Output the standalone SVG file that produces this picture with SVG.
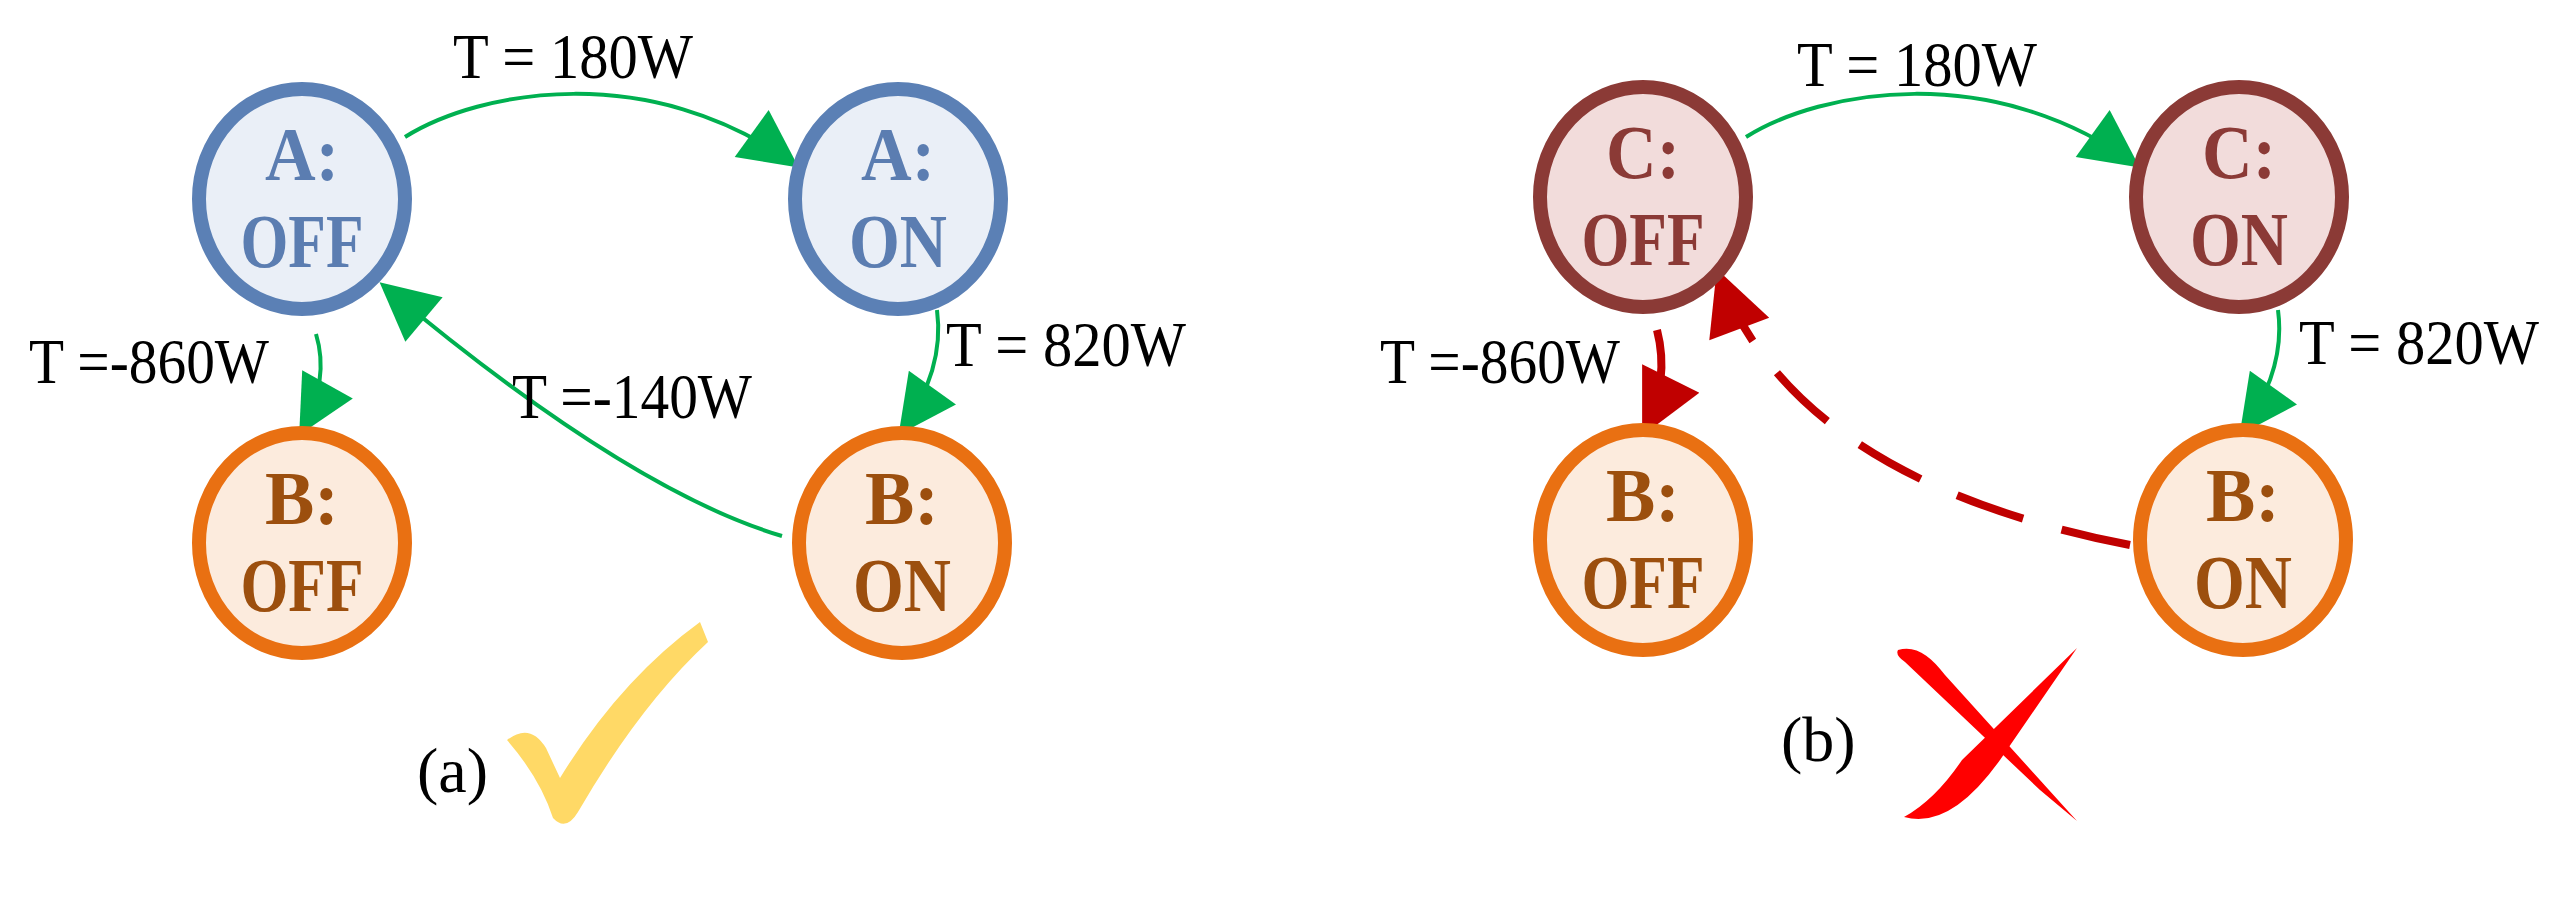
<svg xmlns="http://www.w3.org/2000/svg" width="2566" height="899" viewBox="0 0 2566 899">
<style>
.n{stroke-width:14}
.a{fill:#EAEFF7;stroke:#5B80B5}
.b{fill:#FCEBDD;stroke:#E97012}
.c{fill:#F2DCDB;stroke:#8B3A36}
.t{font-family:"Liberation Serif",serif;font-weight:bold;font-size:76px;text-anchor:middle}
.ta{fill:#5B7DB1}.tb{fill:#9C4F0E}.tc{fill:#8B3A36}
.l{font-family:"Liberation Serif",serif;font-size:64px;fill:#000}
.g{fill:none;stroke:#00B050;stroke-width:4}
.r{fill:none;stroke:#C00000;stroke-width:8}
</style>
<defs>
<marker id="mg" markerUnits="userSpaceOnUse" viewBox="0 0 10 10" refX="9" refY="5" markerWidth="66" markerHeight="58" orient="auto"><path d="M0,0L10,5L0,10Z" fill="#00B050"/></marker>
<marker id="mr" markerUnits="userSpaceOnUse" viewBox="0 0 10 10" refX="9" refY="5" markerWidth="70" markerHeight="64" orient="auto"><path d="M0,0L10,5L0,10Z" fill="#C00000"/></marker>
</defs>
<g id="connectors">
<path class="g" d="M405,137 C480,90 650,60 794,164" marker-end="url(#mg)"/>
<path class="g" d="M937,310 Q945,370 902,430" marker-end="url(#mg)"/>
<path class="g" d="M316,334 Q330,380 302,430" marker-end="url(#mg)"/>
<path class="g" d="M782,536 Q627,490 384,286" marker-end="url(#mg)"/>
<path class="g" d="M1746,137 C1821,90 1991,60 2135,164" marker-end="url(#mg)"/>
<path class="g" d="M2278,310 Q2286,370 2243,430" marker-end="url(#mg)"/>
<path class="r" d="M1657,330 Q1670,380 1645,430" marker-end="url(#mr)"/>
<path class="r" d="M2130,545 Q1796,480 1719,275" stroke-dasharray="70,40" marker-end="url(#mr)"/>
</g>
<g id="AOFF"><ellipse class="n a" cx="302" cy="199" rx="103" ry="110"/><text class="t ta" x="302" y="180" textLength="74" lengthAdjust="spacingAndGlyphs">A:</text><text class="t ta" x="302" y="267" textLength="123" lengthAdjust="spacingAndGlyphs">OFF</text></g>
<g id="AON"><ellipse class="n a" cx="898" cy="199" rx="103" ry="110"/><text class="t ta" x="898" y="180" textLength="74" lengthAdjust="spacingAndGlyphs">A:</text><text class="t ta" x="898" y="267" textLength="98" lengthAdjust="spacingAndGlyphs">ON</text></g>
<g id="BOFFa"><ellipse class="n b" cx="302" cy="543" rx="103" ry="110"/><text class="t tb" x="302" y="524" textLength="74" lengthAdjust="spacingAndGlyphs">B:</text><text class="t tb" x="302" y="611" textLength="123" lengthAdjust="spacingAndGlyphs">OFF</text></g>
<g id="BONa"><ellipse class="n b" cx="902" cy="543" rx="103" ry="110"/><text class="t tb" x="902" y="524" textLength="74" lengthAdjust="spacingAndGlyphs">B:</text><text class="t tb" x="902" y="611" textLength="98" lengthAdjust="spacingAndGlyphs">ON</text></g>
<g id="COFF"><ellipse class="n c" cx="1643" cy="197" rx="103" ry="110"/><text class="t tc" x="1643" y="178" textLength="74" lengthAdjust="spacingAndGlyphs">C:</text><text class="t tc" x="1643" y="265" textLength="123" lengthAdjust="spacingAndGlyphs">OFF</text></g>
<g id="CON"><ellipse class="n c" cx="2239" cy="197" rx="103" ry="110"/><text class="t tc" x="2239" y="178" textLength="74" lengthAdjust="spacingAndGlyphs">C:</text><text class="t tc" x="2239" y="265" textLength="98" lengthAdjust="spacingAndGlyphs">ON</text></g>
<g id="BOFFb"><ellipse class="n b" cx="1643" cy="540" rx="103" ry="110"/><text class="t tb" x="1643" y="521" textLength="74" lengthAdjust="spacingAndGlyphs">B:</text><text class="t tb" x="1643" y="608" textLength="123" lengthAdjust="spacingAndGlyphs">OFF</text></g>
<g id="BONb"><ellipse class="n b" cx="2243" cy="540" rx="103" ry="110"/><text class="t tb" x="2243" y="521" textLength="74" lengthAdjust="spacingAndGlyphs">B:</text><text class="t tb" x="2243" y="608" textLength="98" lengthAdjust="spacingAndGlyphs">ON</text></g>
<g id="labels">
<text class="l" x="453" y="78" textLength="240" lengthAdjust="spacingAndGlyphs">T = 180W</text>
<text class="l" x="29" y="383" textLength="240" lengthAdjust="spacingAndGlyphs">T =-860W</text>
<text class="l" x="946" y="366" textLength="240" lengthAdjust="spacingAndGlyphs">T = 820W</text>
<text class="l" x="512" y="418" textLength="240" lengthAdjust="spacingAndGlyphs">T =-140W</text>
<text class="l" x="1797" y="86" textLength="240" lengthAdjust="spacingAndGlyphs">T = 180W</text>
<text class="l" x="1380" y="383" textLength="240" lengthAdjust="spacingAndGlyphs">T =-860W</text>
<text class="l" x="2299" y="364" textLength="240" lengthAdjust="spacingAndGlyphs">T = 820W</text>
<text class="l" x="417" y="792" font-size="72">(a)</text>
<text class="l" x="1781" y="761" font-size="72">(b)</text>
</g>
<path d="M507,740 Q530,722 546,748 L560,778 Q620,680 700,622 L708,642 Q640,705 578,812 Q566,832 553,818 Q540,778 507,740 Z" fill="#FFD966"/>
<path d="M1898,650 C1915,645 1930,655 1945,675 L2077,821 L2040,790 L1905,662 Q1895,655 1898,650 Z" fill="#FF0000"/>
<path d="M2077,648 L2000,760 Q1950,830 1904,817 Q1935,800 1962,760 Z" fill="#FF0000"/>
</svg>
